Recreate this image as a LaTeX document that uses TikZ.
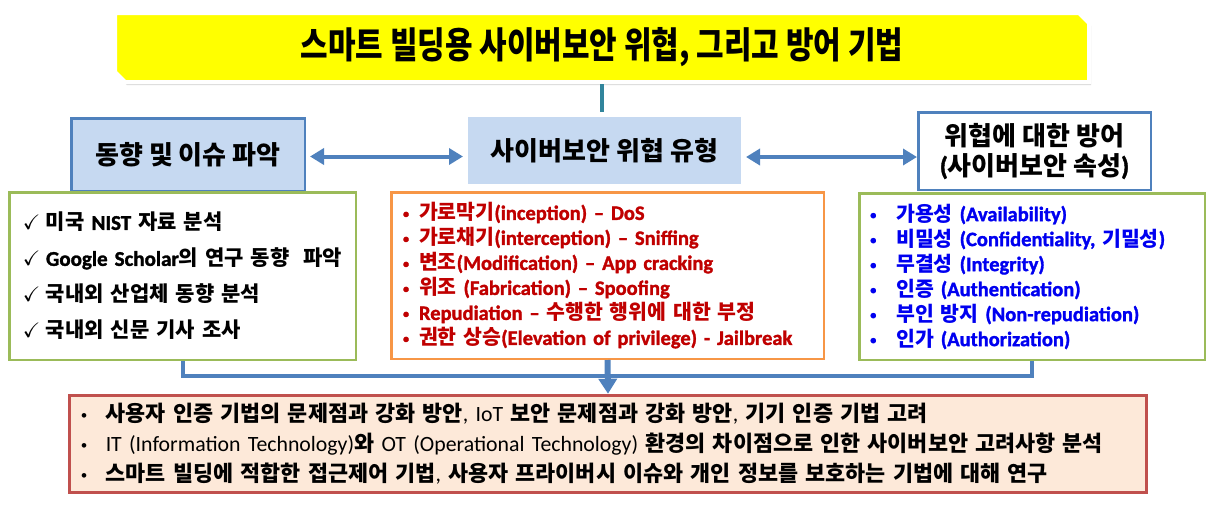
\documentclass[tikz,border=0pt]{standalone}
\usepackage{amssymb}
\usepackage{fontspec}
\setmainfont{Carlito}[BoldFont={Carlito Bold}, BoldFeatures={FakeBold=1.5}]
\newfontfamily\krfamily{Noto Sans CJK KR}
\newfontfamily\krtitle{Noto Sans CJK KR}[FakeStretch=0.82]
\usetikzlibrary{arrows.meta, shadows, backgrounds}

\definecolor{bnyellow}{HTML}{FFFF00}
\definecolor{hdfill}{HTML}{C6D9F1}
\definecolor{hdblue}{HTML}{4F81BD}
\definecolor{lsgreen}{HTML}{9BBB59}
\definecolor{lsorange}{HTML}{F79646}
\definecolor{thrred}{HTML}{C00000}
\definecolor{defblue}{HTML}{0000F0}
\definecolor{smfill}{HTML}{FDE9D9}
\definecolor{smred}{HTML}{C0504D}
\definecolor{tealc}{HTML}{31859C}

% Hangul goes to the CJK font, the rest stays in Carlito
\XeTeXinterchartokenstate=1
\newXeTeXintercharclass\krclass
\newcount\krc
\krc="AC00
\loop
  \XeTeXcharclass\krc=\krclass
  \ifnum\krc<"D7A3 \advance\krc by 1
\repeat
\def\krsw{\krfamily}
\def\latsw{\rmfamily}
\XeTeXinterchartoks 0 \krclass = {\krsw}
\XeTeXinterchartoks 4095 \krclass = {\krsw}
\XeTeXinterchartoks \krclass 0 = {\latsw}
\XeTeXinterchartoks \krclass 4095 = {\latsw}

\newcommand{\bdot}{\raisebox{0.1em}{\scalebox{0.6}{•}}}
\newcommand{\chk}[1]{\mbox{\makebox[23pt][l]{$\checkmark$}#1}}
\newcommand{\bul}[2][16pt]{\mbox{\makebox[#1][l]{\bdot}#2}}

\tikzset{
    banner/.style = {draw=white, line width=4pt, fill=bnyellow, line join=miter,
                     drop shadow={shadow xshift=2pt, shadow yshift=-3pt, opacity=0.3}},
    head/.style   = {draw=hdblue, line width=2.5pt, fill=hdfill, inner sep=0pt, align=center,
                     font=\fontsize{26}{30}\selectfont\bfseries},
    panel/.style  = {line width=2.5pt, fill=white, inner sep=0pt, align=left},
    lig/.style    = {line width=4pt, draw=hdblue},
    seta/.style   = {lig, {Triangle[length=14pt,width=16pt]}-{Triangle[length=14pt,width=16pt]}},
}

\begin{document}
\begin{tikzpicture}[x=1pt, y=-1pt]
    \useasboundingbox (0,0) rectangle (1216,507);
    \node[minimum width=974pt, minimum height=69pt, inner sep=0pt, outer sep=0pt,
          font={\XeTeXinterchartokenstate=0 \fontsize{36.5}{40}\krtitle\bfseries}]
        (title) at (602,47.5) {스마트 빌딩용 사이버보안 위협, 그리고 방어 기법};
    \begin{scope}[on background layer]
        \draw[banner] (title.north west) -- ([xshift=-10pt]title.north east)
            -- ([yshift=-10pt]title.north east) -- (title.south east)
            -- ([xshift=10pt]title.south west) -- ([yshift=10pt]title.south west) -- cycle;
    \end{scope}
    % three headings
    \node[head, draw=white, line width=5pt, minimum width=278pt, minimum height=72pt,
          drop shadow={shadow xshift=2pt, shadow yshift=-2pt, opacity=0.3}]
        (threat) at (604.5,150.5) {사이버보안 위협 유형};
    \node[head, minimum width=233.5pt, minimum height=72.5pt] (trend) at (188,154.5) {동향 및 이슈 파악};
    \node[head, fill=white, minimum width=232.5pt, minimum height=77.5pt] (defense) at (1034.5,151)
        {위협에 대한 방어\\(사이버보안 속성)};
    \draw[line width=4pt, tealc] ([yshift=-2pt]title.south) -- (title.south |- threat.north);
    \draw[seta, shorten <=4pt] ([yshift=-2pt]trend.east) -- ([yshift=-2pt]trend.east -| threat.west);
    \draw[seta] ([yshift=-6pt]defense.west -| threat.east) -- ([yshift=-6pt]defense.west);
    % lists under the headings
    \node[panel, draw=lsgreen, minimum width=346.5pt, minimum height=167.5pt, text width=319pt,
          font=\fontsize{21}{36}\selectfont\bfseries] (trendlist) at (182.5,276) {%
        \chk{미국 NIST 자료 분석}\\
        \chk{Google Scholar의 연구 동향\ \ 파악}\\
        \chk{국내외 산업체 동향 분석}\\
        \chk{국내외 신문 기사 조사}};
    \node[panel, draw=lsorange, minimum width=432.5pt, minimum height=166.5pt, text width=409pt,
          text=thrred, font=\fontsize{20.5}{25}\selectfont\bfseries] (threatlist) at (607.5,275.5) {%
        \bul{가로막기(inception) – DoS}\\
        \bul{가로채기(interception) – Sniffing}\\
        \bul{변조(Modification) – App cracking}\\
        \bul{위조 (Fabrication) – Spoofing}\\
        \bul{Repudiation – 수행한 행위에 대한 부정}\\
        \bul{권한 상승(Elevation of privilege) - Jailbreak}};
    \node[panel, draw=lsgreen, minimum width=345.5pt, minimum height=166.5pt, text width=323.5pt,
          text=defblue, font=\fontsize{20.5}{25}\selectfont\bfseries] (deflist) at (1032,276.5) {%
        \bul[26pt]{가용성 (Availability)}\\
        \bul[26pt]{비밀성 (Confidentiality, 기밀성)}\\
        \bul[26pt]{무결성 (Integrity)}\\
        \bul[26pt]{인증 (Authentication)}\\
        \bul[26pt]{부인 방지 (Non-repudiation)}\\
        \bul[26pt]{인가 (Authorization)}};
    % summary box
    \node[panel, draw=smred, fill=smfill, line width=3pt, minimum width=1077.5pt, minimum height=97.5pt,
          text width=1054.5pt, drop shadow={shadow xshift=1.5pt, shadow yshift=-1.5pt, opacity=0.25},
          font={\fontsize{21.8}{30}\selectfont\def\krsw{\krfamily\bfseries}\def\latsw{\rmfamily\mdseries}}]
        (summary) at (608,444) {%
        \bul[25pt]{사용자 인증 기법의 문제점과 강화 방안, IoT 보안 문제점과 강화 방안, 기기 인증 기법 고려}\\
        \bul[25pt]{IT (Information Technology)와 OT (Operational Technology) 환경의 차이점으로 인한 사이버보안 고려사항 분석}\\
        \bul[25pt]{스마트 빌딩에 적합한 접근제어 기법, 사용자 프라이버시 이슈와 개인 정보를 보호하는 기법에 대해 연구}};
    \draw[lig] (trendlist.south) -- ++(0,15) -| (deflist.south);
    \draw[lig, line width=6pt, -{Triangle[length=15pt,width=18pt]}] (threatlist.south) -- (summary.north);
\end{tikzpicture}
\end{document}
